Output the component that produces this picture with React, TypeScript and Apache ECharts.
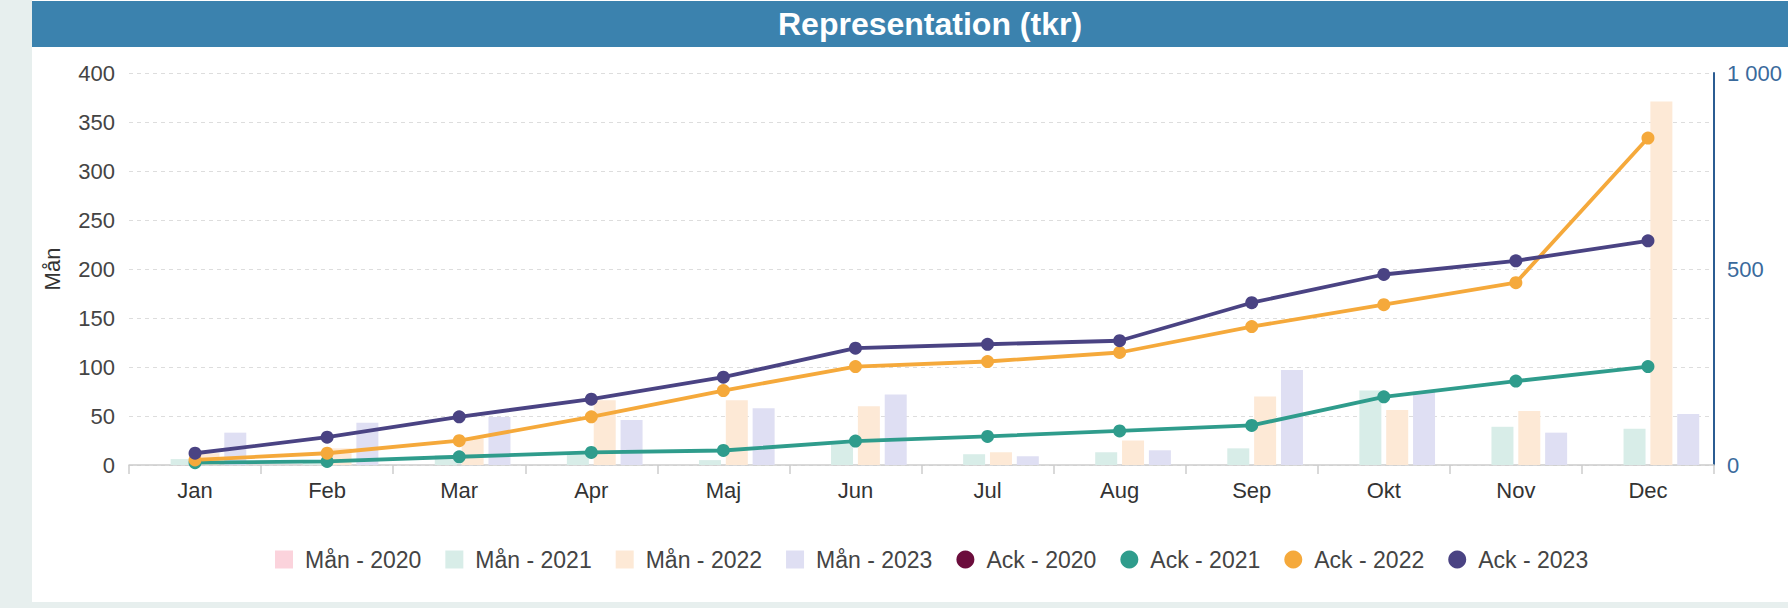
import React, { useEffect, useRef } from "react";
import * as echarts from "echarts";

const categories = ["Jan", "Feb", "Mar", "Apr", "Maj", "Jun", "Jul", "Aug", "Sep", "Okt", "Nov", "Dec"];

const mon2020: (number | null)[] = [null, null, null, null, null, null, null, null, null, null, null, null];
const mon2021 = [6, 3, 10, 12, 5, 22, 11, 13, 17, 76, 39, 37];
const mon2022 = [12, 17, 27, 66, 66, 60, 13, 25, 70, 56, 55, 371];
const mon2023 = [33, 43, 49, 46, 58, 72, 9, 15, 97, 75, 33, 52];

const ack2020: (number | null)[] = [null, null, null, null, null, null, null, null, null, null, null, null];
const ack2021 = [6, 9, 21, 32, 37, 61, 73, 87, 101, 174, 214, 251];
const ack2022 = [13, 30, 62, 123, 190, 251, 264, 287, 353, 409, 465, 834];
const ack2023 = [30, 71, 123, 168, 224, 298, 308, 317, 414, 486, 521, 572];

const titleText = "Representation (tkr)";
const leftAxisName = "Mån";

const FONT = "'Liberation Sans', Arial, Helvetica, sans-serif";

const barColors = ["#fbd3dc", "#d8ede8", "#fde9d6", "#dfdff3"];
const lineColors = ["#6b0d3c", "#2f9c8c", "#f5a93b", "#4a4383"];

export default function App() {
  const ref = useRef<HTMLDivElement>(null);
  useEffect(() => {
    const chart = echarts.init(ref.current!, null, { renderer: "svg" });
    const barSeries = [
      { name: "Mån - 2020", data: mon2020 },
      { name: "Mån - 2021", data: mon2021 },
      { name: "Mån - 2022", data: mon2022 },
      { name: "Mån - 2023", data: mon2023 },
    ].map((s, i) => ({
      type: "bar",
      name: s.name,
      data: s.data,
      yAxisIndex: 0,
      barWidth: 22,
      barGap: "22%",
      itemStyle: { color: barColors[i] },
      z: 2,
    }));
    const lineSeries = [
      { name: "Ack - 2020", data: ack2020 },
      { name: "Ack - 2021", data: ack2021 },
      { name: "Ack - 2022", data: ack2022 },
      { name: "Ack - 2023", data: ack2023 },
    ].map((s, i) => ({
      type: "line",
      name: s.name,
      data: s.data,
      yAxisIndex: 1,
      symbol: "circle",
      symbolSize: 13,
      showAllSymbol: true,
      lineStyle: { color: lineColors[i], width: 3.8 },
      itemStyle: { color: lineColors[i] },
      z: 5,
    }));

    chart.setOption({
      animation: false,
      backgroundColor: "#e7efee",
      textStyle: { fontFamily: FONT },
      graphic: [
        { type: "rect", z: -10, silent: true, shape: { x: 32, y: 0, width: 1756, height: 602 }, style: { fill: "#ffffff" } },
        { type: "rect", z: -9, silent: true, shape: { x: 32, y: 1, width: 1756, height: 46 }, style: { fill: "#3b82ae" } },
        {
          type: "text",
          z: 10,
          silent: true,
          x: 930,
          y: 24,
          style: {
            text: titleText,
            fill: "#ffffff",
            font: `bold 32px ${FONT}`,
            textAlign: "center",
            textVerticalAlign: "middle",
          },
        },
      ],
      legend: {
        left: 270,
        top: 543,
        itemWidth: 18,
        itemHeight: 18,
        itemGap: 24,
        textStyle: { fontSize: 23, color: "#444", fontFamily: FONT, padding: [0, 0, 0, 7] },
        data: [
          { name: "Mån - 2020", icon: "rect" },
          { name: "Mån - 2021", icon: "rect" },
          { name: "Mån - 2022", icon: "rect" },
          { name: "Mån - 2023", icon: "rect" },
          { name: "Ack - 2020", icon: "circle" },
          { name: "Ack - 2021", icon: "circle" },
          { name: "Ack - 2022", icon: "circle" },
          { name: "Ack - 2023", icon: "circle" },
        ],
      },
      grid: { left: 129, right: 74, top: 73, bottom: 143, containLabel: false },
      xAxis: {
        type: "category",
        data: categories,
        boundaryGap: true,
        axisLine: { show: true, lineStyle: { color: "#cccccc", width: 1.5 } },
        axisTick: { show: true, length: 9, lineStyle: { color: "#cccccc", width: 1.5 } },
        axisLabel: { color: "#333333", fontSize: 22, margin: 14, fontFamily: FONT },
      },
      yAxis: [
        {
          type: "value",
          min: 0,
          max: 400,
          interval: 50,
          name: leftAxisName,
          nameLocation: "middle",
          nameRotate: 90,
          nameGap: 66,
          nameTextStyle: { color: "#333333", fontSize: 22, fontFamily: FONT },
          axisLine: { show: false },
          axisTick: { show: false },
          axisLabel: { color: "#444444", fontSize: 22, margin: 14, fontFamily: FONT },
          splitLine: { show: true, lineStyle: { color: "#dddddd", type: [4, 4], width: 1.2 } },
        },
        {
          type: "value",
          min: 0,
          max: 1000,
          interval: 500,
          position: "right",
          axisLine: { show: true, lineStyle: { color: "#2b5c92", width: 2 } },
          axisTick: { show: false },
          axisLabel: {
            color: "#3a6a9c",
            fontSize: 22,
            margin: 13,
            fontFamily: FONT,
            formatter: (v: number) => String(v).replace(/\B(?=(\d{3})+(?!\d))/g, " "),
          },
          splitLine: { show: false },
        },
      ],
      series: [...barSeries, ...lineSeries],
    });
    return () => chart.dispose();
  }, []);
  return <div ref={ref} style={{ position: "absolute", left: 0, top: 0, width: 1788, height: 608 }} />;
}
